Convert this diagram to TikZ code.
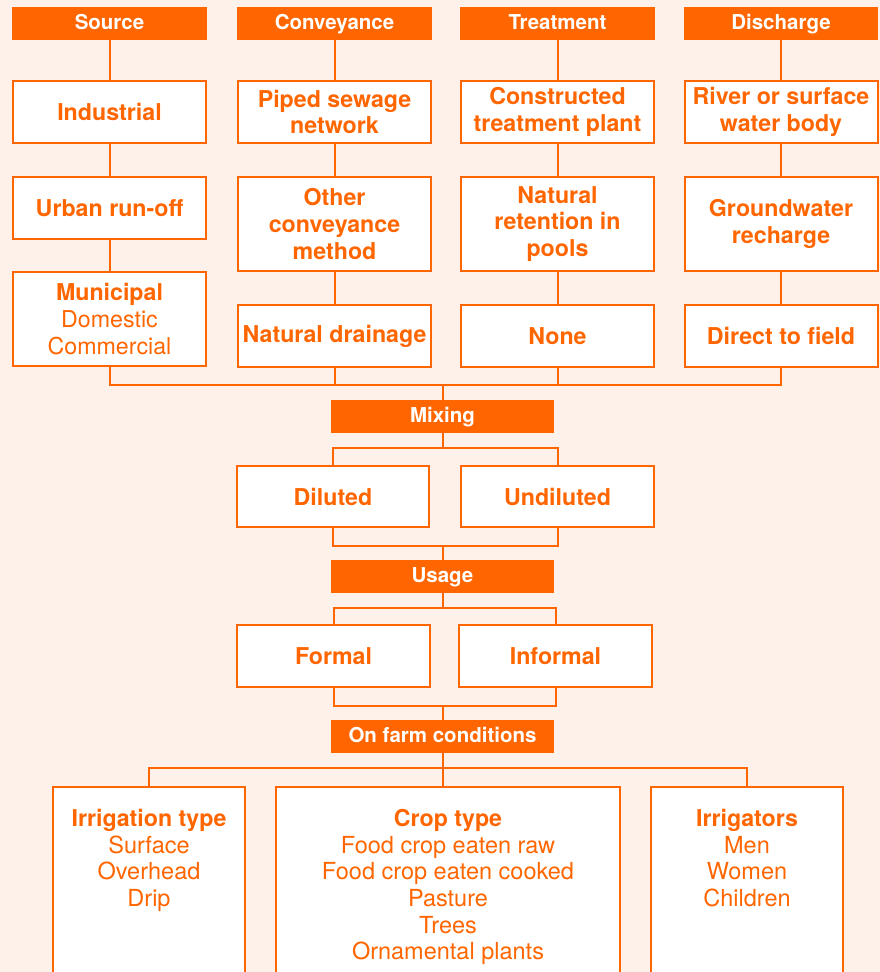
\documentclass[tikz,border=0pt]{standalone}
\usepackage{fontspec}
\setmainfont{TeX Gyre Heros}
\definecolor{org}{RGB}{255,102,0}
\definecolor{bgc}{RGB}{253,241,234}
\tikzset{
  hdr/.style={fill=org, draw=none, text=white, font=\fontsize{20.5}{24}\selectfont\bfseries, minimum height=33pt, inner sep=0pt, text height=15pt, text depth=4pt},
  bx/.style={fill=white, draw=org, line width=2pt, text=org, font=\fontsize{23.2}{26.7}\selectfont\bfseries, align=center, inner sep=0pt},
  txt/.style={text=org, align=center, inner sep=0pt, font=\fontsize{23.5}{26.7}\selectfont},
  ln/.style={draw=org, line width=2pt}
}
\begin{document}
\begin{tikzpicture}[x=1pt,y=-1pt]
\useasboundingbox (0,0) rectangle (880,972);
\fill[bgc] (0,0) rectangle (880,972);
% headers
\node[hdr, minimum width=195pt] (h1) at (109.5,23.5) {Source};
\node[hdr, minimum width=195pt] (h2) at (334.5,23.5) {Conveyance};
\node[hdr, minimum width=195pt] (h3) at (557.5,23.5) {Treatment};
\node[hdr, minimum width=194pt] (h4) at (781,23.5) {Discharge};
% row 1
\node[bx, minimum width=193pt, minimum height=62pt] (a1) at (109.5,112) {Industrial};
\node[bx, minimum width=193pt, minimum height=62pt] (b1) at (334.5,112) {Piped sewage\\network};
\node[bx, minimum width=193pt, minimum height=62pt] (c1) at (557.5,112) {Constructed\\treatment plant};
\node[bx, minimum width=193pt, minimum height=62pt] (d1) at (781,112) {River or surface\\water body};
% row 2
\node[bx, minimum width=193pt, minimum height=62pt] (a2) at (109.5,208) {Urban run-off};
\node[bx, minimum width=193pt, minimum height=94pt] (b2) at (334.5,224) {Other\\conveyance\\method};
\node[bx, minimum width=193pt, minimum height=94pt] (c2) at (557.5,224) {Natural\\retention in\\pools};
\node[bx, minimum width=193pt, minimum height=94pt] (d2) at (781,224) {Groundwater\\recharge};
% row 3
\node[bx, minimum width=193pt, minimum height=94pt] (a3) at (109.5,319) {Municipal\\\mdseries Domestic\\\mdseries Commercial};
\node[bx, minimum width=193pt, minimum height=62pt] (b3) at (334.5,336) {Natural drainage};
\node[bx, minimum width=193pt, minimum height=62pt] (c3) at (557.5,336) {None};
\node[bx, minimum width=193pt, minimum height=62pt] (d3) at (781,336) {Direct to field};
% vertical links
\foreach \c in {a,b,c,d}{
  \draw[ln] (\c1.south) -- (\c2.north);
  \draw[ln] (\c2.south) -- (\c3.north);
}
\draw[ln] (h1.south) -- (a1.north);
\draw[ln] (h2.south) -- (b1.north);
\draw[ln] (h3.south) -- (c1.north);
\draw[ln] (h4.south) -- (d1.north);
% mixing
\node[hdr, minimum width=223pt] (mix) at (442.5,416.5) {Mixing};
\coordinate (bus1) at (0,385);
\foreach \c in {a3,b3,c3,d3}{
  \draw[ln] (\c.south) -- (\c.south |- bus1) -| (mix.north);
}
\node[bx, minimum width=192pt, minimum height=61pt] (dil) at (333,496.5) {Diluted};
\node[bx, minimum width=193pt, minimum height=61pt] (und) at (557.5,496.5) {Undiluted};
\coordinate (bus2) at (0,448);
\draw[ln] (mix.south) -- (mix.south |- bus2);
\draw[ln] (dil.north) -- (dil.north |- bus2) -- (und.north |- bus2) -- (und.north);
\node[hdr, minimum width=223pt] (use) at (442.5,576.5) {Usage};
\coordinate (bus3) at (0,546);
\draw[ln] (dil.south) -- (dil.south |- bus3) -- (und.south |- bus3) -- (und.south);
\draw[ln] (use.north |- bus3) -- (use.north);
% formal
\node[bx, minimum width=193pt, minimum height=62pt] (for) at (333.5,656) {Formal};
\node[bx, minimum width=193pt, minimum height=62pt] (inf) at (555.5,656) {Informal};
\coordinate (bus4) at (0,608);
\draw[ln] (use.south) -- (use.south |- bus4);
\draw[ln] (for.north) -- (for.north |- bus4) -- (inf.north |- bus4) -- (inf.north);
\node[hdr, minimum width=223pt] (farm) at (442.5,736.5) {On farm conditions};
\coordinate (bus5) at (0,706);
\draw[ln] (for.south) -- (for.south |- bus5) -- (inf.south |- bus5) -- (inf.south);
\draw[ln] (farm.north |- bus5) -- (farm.north);
% bottom boxes
\node[bx, anchor=north, minimum width=192pt, minimum height=230pt] (irr) at (149,786) {};
\node[bx, anchor=north, minimum width=344pt, minimum height=230pt] (crop) at (448,786) {};
\node[bx, anchor=north, minimum width=192pt, minimum height=230pt] (irg) at (747,786) {};
\coordinate (bus6) at (0,768);
\draw[ln] (irr.north) -- (irr.north |- bus6) -- (irg.north |- bus6) -- (irg.north);
\draw[ln] (farm.south) -- (farm.south |- crop.north);
\node[txt, anchor=north] (irrt) at (149,809) {\bfseries\fontsize{23.2}{26.7}\selectfont Irrigation type\\Surface\\Overhead\\Drip};
\node[txt, anchor=north] (cropt) at (448,809) {\bfseries\fontsize{23.2}{26.7}\selectfont Crop type\\Food crop eaten raw\\Food crop eaten cooked\\Pasture\\Trees\\Ornamental plants};
\node[txt, anchor=north] (irgt) at (747,809) {\bfseries\fontsize{23.2}{26.7}\selectfont Irrigators\\Men\\Women\\Children};
\end{tikzpicture}
\end{document}
